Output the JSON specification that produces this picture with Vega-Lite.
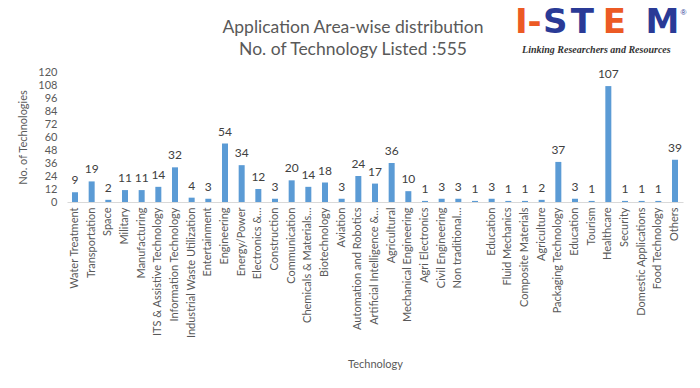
{
  "$schema": "https://vega.github.io/schema/vega-lite/v6.json",
  "width": 616,
  "height": 130,
  "autosize": {"type": "none"},
  "padding": {"left": 67, "top": 72, "right": 17, "bottom": 186},
  "background": "white",
  "title": {
    "text": ["Application Area-wise distribution", "No. of Technology Listed :555"],
    "font": "Lato",
    "fontSize": 17.5,
    "fontWeight": "normal",
    "color": "#595959",
    "lineHeight": 22,
    "anchor": "middle",
    "frame": "group",
    "dx": -22,
    "offset": -52
  },
  "config": {
    "view": {"stroke": null},
    "font": "Lato",
    "axis": {"labelFont": "Lato", "titleFont": "Lato", "labelColor": "#595959", "titleColor": "#595959", "titleFontWeight": "normal"},
    "axisY": {
      "grid": false,
      "domain": false,
      "ticks": false,
      "labelOverlap": false,
      "labelPadding": 10,
      "labelFontSize": 11,
      "titleFontSize": 11,
      "titlePadding": 9
    }
  },
  "layer": [
    {
      "data": {
        "values": [
          {"area": "Water Treatment", "count": 9},
          {"area": "Transportation", "count": 19},
          {"area": "Space", "count": 2},
          {"area": "Military", "count": 11},
          {"area": "Manufacturing", "count": 11},
          {"area": "ITS & Assistive Technology", "count": 14},
          {"area": "Information Technology", "count": 32},
          {"area": "Industrial Waste Utilization", "count": 4},
          {"area": "Entertainment", "count": 3},
          {"area": "Engineering", "count": 54},
          {"area": "Energy/Power", "count": 34},
          {"area": "Electronics &…", "count": 12},
          {"area": "Construction", "count": 3},
          {"area": "Communication", "count": 20},
          {"area": "Chemicals & Materials…", "count": 14},
          {"area": "Biotechnology", "count": 18},
          {"area": "Aviation", "count": 3},
          {"area": "Automation and Robotics", "count": 24},
          {"area": "Artificial Intelligence &…", "count": 17},
          {"area": "Agricultural", "count": 36},
          {"area": "Mechanical Engineering", "count": 10},
          {"area": "Agri Electronics", "count": 1},
          {"area": "Civil Engineering", "count": 3},
          {"area": "Non traditional…", "count": 3},
          {"area": " ", "count": 1},
          {"area": "Education", "count": 3},
          {"area": "Fluid Mechanics", "count": 1},
          {"area": "Composite Materials", "count": 1},
          {"area": "Agriculture", "count": 2},
          {"area": "Packaging Technology", "count": 37},
          {"area": " Education", "count": 3},
          {"area": "Tourism", "count": 1},
          {"area": "Healthcare", "count": 107},
          {"area": "Security", "count": 1},
          {"area": "Domestic Applications", "count": 1},
          {"area": "Food Technology", "count": 1},
          {"area": "Others", "count": 39}
        ]
      },
      "encoding": {
        "x": {
          "field": "area",
          "type": "nominal",
          "sort": null,
          "scale": {"paddingInner": 0.64, "paddingOuter": 0.3},
          "axis": {
            "title": "Technology",
            "labelAngle": -90,
            "labelFontSize": 11,
            "labelPadding": 5,
            "labelLimit": 200,
            "ticks": false,
            "domainColor": "#d9d9d9",
            "titleFontSize": 11,
            "titlePadding": 21
          }
        },
        "y": {
          "field": "count",
          "type": "quantitative",
          "scale": {"domain": [0, 120], "nice": false},
          "axis": {"title": "No. of Technologies", "values": [0, 12, 24, 36, 48, 60, 72, 84, 96, 108, 120]}
        }
      },
      "layer": [
        {"mark": {"type": "bar", "color": "#5b9bd5"}},
        {
          "mark": {"type": "text", "baseline": "bottom", "dy": -5, "fontSize": 12, "color": "#404040", "font": "Lato"},
          "encoding": {"text": {"field": "count", "type": "quantitative"}}
        }
      ]
    },
    {
      "data": {"values": [{"part": "I-"}]},
      "mark": {"type": "text", "align": "center", "baseline": "alphabetic", "dx": -80, "fontSize": 34, "fontWeight": "bold", "font": "DejaVu Sans", "color": "#ec5a24"},
      "encoding": {"x": {"datum": "Healthcare"}, "y": {"datum": 156, "axis": {"title": "No. of Technologies", "values": [0, 12, 24, 36, 48, 60, 72, 84, 96, 108, 120]}}, "text": {"field": "part"}}
    },
    {
      "data": {"values": [{"part": "S"}]},
      "mark": {"type": "text", "align": "center", "baseline": "alphabetic", "dx": -53, "fontSize": 34, "fontWeight": "bold", "font": "DejaVu Sans", "color": "#2a3a96"},
      "encoding": {"x": {"datum": "Healthcare"}, "y": {"datum": 156, "axis": {"title": "No. of Technologies", "values": [0, 12, 24, 36, 48, 60, 72, 84, 96, 108, 120]}}, "text": {"field": "part"}}
    },
    {
      "data": {"values": [{"part": "T"}]},
      "mark": {"type": "text", "align": "center", "baseline": "alphabetic", "dx": -26, "fontSize": 34, "fontWeight": "bold", "font": "DejaVu Sans", "color": "#2a3a96"},
      "encoding": {"x": {"datum": "Healthcare"}, "y": {"datum": 156, "axis": {"title": "No. of Technologies", "values": [0, 12, 24, 36, 48, 60, 72, 84, 96, 108, 120]}}, "text": {"field": "part"}}
    },
    {
      "data": {"values": [{"part": "E"}]},
      "mark": {"type": "text", "align": "center", "baseline": "alphabetic", "dx": 6, "fontSize": 34, "fontWeight": "bold", "font": "DejaVu Sans", "color": "#ec5a24"},
      "encoding": {"x": {"datum": "Healthcare"}, "y": {"datum": 156, "axis": {"title": "No. of Technologies", "values": [0, 12, 24, 36, 48, 60, 72, 84, 96, 108, 120]}}, "text": {"field": "part"}}
    },
    {
      "data": {"values": [{"part": "M"}]},
      "mark": {"type": "text", "align": "center", "baseline": "alphabetic", "dx": 54, "fontSize": 34, "fontWeight": "bold", "font": "DejaVu Sans", "color": "#2a3a96"},
      "encoding": {"x": {"datum": "Healthcare"}, "y": {"datum": 156, "axis": {"title": "No. of Technologies", "values": [0, 12, 24, 36, 48, 60, 72, 84, 96, 108, 120]}}, "text": {"field": "part"}}
    },
    {
      "data": {"values": [{"part": "®"}]},
      "mark": {"type": "text", "align": "center", "baseline": "alphabetic", "dx": 75, "fontSize": 8, "font": "Liberation Sans", "color": "#2a3a96"},
      "encoding": {"x": {"datum": "Healthcare"}, "y": {"datum": 173, "axis": {"title": "No. of Technologies", "values": [0, 12, 24, 36, 48, 60, 72, 84, 96, 108, 120]}}, "text": {"field": "part"}}
    },
    {
      "data": {"values": [{"tag": "Linking Researchers and Resources"}]},
      "mark": {"type": "text", "align": "center", "baseline": "alphabetic", "dx": -12, "fontSize": 10, "fontStyle": "italic", "fontWeight": "bold", "font": "Liberation Serif", "color": "#333333"},
      "encoding": {"x": {"datum": "Healthcare"}, "y": {"datum": 137.5, "axis": {"title": "No. of Technologies", "values": [0, 12, 24, 36, 48, 60, 72, 84, 96, 108, 120]}}, "text": {"field": "tag"}}
    }
  ]
}
